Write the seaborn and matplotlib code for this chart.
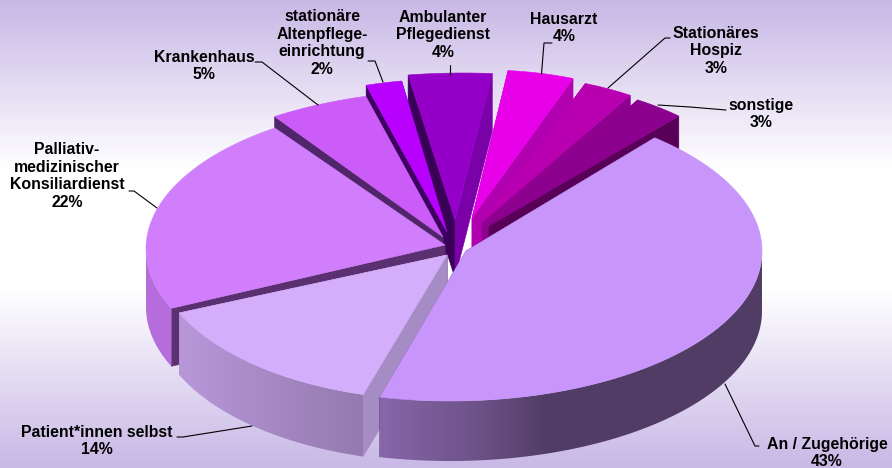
import numpy as np
import matplotlib
matplotlib.use("Agg")
import matplotlib.pyplot as plt
from matplotlib.colors import LinearSegmentedColormap
from matplotlib.patches import Polygon
import seaborn as sns

# ---- data ----
labels = ["An / Zugehörige", "Patient*innen selbst",
          "Palliativ-\nmedizinischer\nKonsiliardienst", "Krankenhaus",
          "stationäre\nAltenpflege-\neinrichtung", "Ambulanter\nPflegedienst",
          "Hausarzt", "Stationäres\nHospiz", "sonstige"]
values = [43, 14, 22, 5, 2, 4, 4, 3, 3]
top_colors = ["#C896FA", "#D4AEFA", "#D07EFC", "#CC5CF8", "#B800FF",
              "#9400C8", "#E800E8", "#B800B0", "#8C0090"]
# ---- style / layout ----
start_face = ["#503C64", "#A58CC4", "#5A3070", "#50256A", "#3E0060",
              "#3A0058", "#C000C0", "#A000A0", "#6A006A"]
end_face = ["#503C64", "#A58CC4", "#5A3070", "#50256A", "#3E0060",
            "#7A00A8", "#B000B0", "#900090", "#580058"]
centers = [(450, 251), (441, 254), (444, 249), (458, 240), (449, 229),
           (463, 223), (485, 220), (498, 225), (503, 227)]
radii_x = [312, 286, 298, 323, 290, 336, 265, 263, 268]
radii_y = [150, 146, 147, 150, 150, 150, 150, 150, 147]
apexes = [(466, 251), (447, 255), (445, 245), (443, 237), (447, 232),
          (455, 220), (472, 218), (482, 222), (489, 226)]
depths = [60, 62, 58, 58, 58, 58, 58, 58, 58]
end_trim = [-2.8, 0, 0, 0, 0, 0, 0, 0, 0]   # perspective squeeze of the rim, degrees
draw_order = [5, 4, 3, 6, 7, 8, 2, 1, 0]
start_angle = 41.0
text_pos = [(827, 453), (97, 441), (67, 176), (204, 66), (322, 43),
            (443, 35), (564, 28), (716, 51), (761, 114)]
leaders = [[(759, 446), (755, 446), (725, 384)],
           [(177, 437), (183, 437), (252, 426)],
           [(129, 191), (134, 191), (157, 208)],
           [(255, 62), (262, 62), (318, 105)],
           [(368, 61), (375, 61), (383, 82)],
           [(450, 65), (450, 75)],
           [(552, 43), (544, 43), (541.5, 74)],
           [(670, 38), (665, 38), (608, 88)],
           [(726, 110), (690, 107), (658, 105)]]

sns.set_theme(style="white")
plt.rcParams["font.family"] = ["Liberation Sans", "DejaVu Sans"]
fig = plt.figure(figsize=(8.92, 4.68), dpi=100)
ax = fig.add_axes([0, 0, 1, 1])
ax.axis("off")
EXT = (0, 892, 468, 0)

bg = LinearSegmentedColormap.from_list(
    "bg", [(0, "#C8B8E6"), (0.36, "#FFFFFF"), (0.62, "#FFFFFF"), (1, "#C8B8E6")])
ax.imshow(np.linspace(0, 1, 468)[:, None], cmap=bg, aspect="auto",
          extent=EXT, zorder=0, vmin=0, vmax=1)

pal = sns.color_palette(top_colors)
edges = start_angle + np.concatenate([[0], np.cumsum(values)]) * 3.6
ramp = np.interp(np.arange(892) + 0.5, [180, 380, 480, 550], [0.87, 0.68, 0.54, 0.40])

z = 1
for i in draw_order:
    cx, cy = centers[i]
    rx, ry = radii_x[i], radii_y[i]
    apx, apy = apexes[i]
    d = depths[i]
    t = np.radians(np.linspace(edges[i], edges[i + 1] + end_trim[i], 240))
    xs = cx + rx * np.sin(t)
    ys = cy - ry * np.cos(t)
    # cut faces
    for k, col in ((0, start_face[i]), (-1, end_face[i])):
        ax.fill([xs[k], xs[k], apx, apx], [ys[k], ys[k] + d, apy + d, apy],
                color=col, lw=0.4, zorder=z)
        z += 1
    # outer wall: only the part that faces the viewer, shaded left to right
    front = np.cos(t) < 0
    if front.sum() > 1:
        fx, fy = xs[front], ys[front]
        verts = np.c_[np.r_[fx, fx[::-1]], np.r_[fy, fy[::-1] + d]]
        img = ramp[None, :, None] * np.array(pal[i])[None, None, :]
        im = ax.imshow(img, extent=EXT, aspect="auto", zorder=z,
                       interpolation="nearest")
        im.set_clip_path(Polygon(verts, transform=ax.transData))
        z += 1
    # top surface
    ax.fill(np.r_[xs, apx], np.r_[ys, apy], color=pal[i], lw=0.4, zorder=z)
    z += 1

for i, (lab, v) in enumerate(zip(labels, values)):
    ax.text(*text_pos[i], f"{lab}\n{v}%", ha="center", va="center",
            fontsize=11.4, fontweight="bold", color="black",
            linespacing=1.2, zorder=z + 2)
    pts = np.array(leaders[i])
    ax.plot(pts[:, 0], pts[:, 1], color="black", lw=0.8, zorder=z + 1,
            solid_joinstyle="miter")

ax.set_xlim(0, 892)
ax.set_ylim(468, 0)
fig.savefig("out.png", dpi=100)
